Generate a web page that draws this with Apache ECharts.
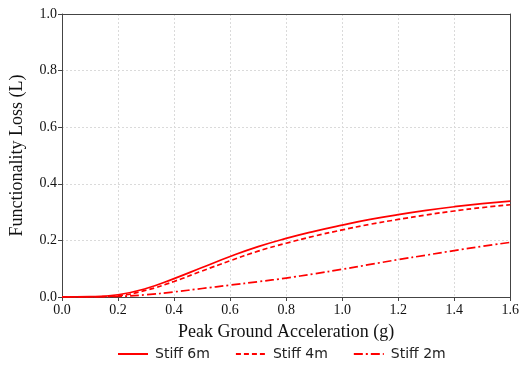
<!DOCTYPE html>
<html>
<head>
<meta charset="utf-8">
<script src="https://cdn.jsdelivr.net/npm/echarts@6/dist/echarts.min.js"></script>
<style>
  html, body { margin: 0; padding: 0; background: #fff; }
  #chart { width: 522px; height: 371px; }
</style>
</head>
<body>
<div id="chart"></div>
<script>
const pga = [0, 0.1, 0.2, 0.3, 0.4, 0.5, 0.6, 0.7, 0.8, 0.9, 1.0, 1.1, 1.2, 1.3, 1.4, 1.5, 1.6];
const stiff6m = [0, 0.001, 0.008, 0.03, 0.065, 0.104, 0.143, 0.178, 0.207, 0.232, 0.254, 0.274, 0.291, 0.306, 0.319, 0.33, 0.339];
const stiff4m = [0, 0.0005, 0.005, 0.024, 0.055, 0.092, 0.128, 0.162, 0.19, 0.215, 0.237, 0.257, 0.274, 0.29, 0.304, 0.316, 0.326];
const stiff2m = [0, 0, 0.002, 0.008, 0.018, 0.03, 0.042, 0.054, 0.067, 0.082, 0.098, 0.115, 0.132, 0.148, 0.164, 0.179, 0.193];
const xTicks = [0, 1.6, 0.2];
const yTicks = [0, 1.0, 0.2];

const serif = "'Liberation Serif', 'DejaVu Serif', serif";
const pairs = ys => pga.map((x, i) => [x, ys[i]]);

const chart = echarts.init(document.getElementById("chart"));

const lineSeries = (name, ys, type) => ({
  name: name,
  type: "line",
  data: pairs(ys),
  smooth: true,
  symbol: "none",
  lineStyle: { color: "#ff0000", width: 1.7, type: type },
  itemStyle: { color: "#ff0000" }
});

// plain frame axes for the top and right edges
const frame = (extra) => Object.assign({
  type: "value",
  axisLine: { show: true, onZero: false, lineStyle: { color: "#444" } },
  axisTick: { show: false },
  axisLabel: { show: false },
  splitLine: { show: false }
}, extra);

const tickLabel = {
  fontFamily: serif,
  fontSize: 14,
  color: "#111",
  formatter: v => v.toFixed(1)
};

chart.setOption({
  animation: false,
  backgroundColor: "#fff",
  grid: { left: 59, right: 11, top: 14, bottom: 74 },
  xAxis: [{
    type: "value",
    min: xTicks[0],
    max: xTicks[1],
    interval: xTicks[2],
    name: "Peak Ground Acceleration (g)",
    nameLocation: "middle",
    nameGap: 26,
    nameTextStyle: { fontFamily: serif, fontSize: 18, color: "#111" },
    axisLine: { lineStyle: { color: "#444" } },
    axisTick: { length: 4, lineStyle: { color: "#444" } },
    axisLabel: Object.assign({ margin: 6 }, tickLabel),
    splitLine: { lineStyle: { color: "#dadada", type: [2, 2] } }
  }, frame({ position: "top", min: xTicks[0], max: xTicks[1] })],
  yAxis: [{
    type: "value",
    min: yTicks[0],
    max: yTicks[1],
    interval: yTicks[2],
    name: "Functionality Loss (L)",
    nameLocation: "middle",
    nameGap: 36,
    nameTextStyle: { fontFamily: serif, fontSize: 18, color: "#111" },
    axisLine: { show: true, lineStyle: { color: "#444" } },
    axisTick: { show: true, length: 4, lineStyle: { color: "#444" } },
    axisLabel: Object.assign({ margin: 5 }, tickLabel),
    splitLine: { lineStyle: { color: "#dadada", type: [2, 2] } }
  }, frame({ position: "right", min: yTicks[0], max: yTicks[1] })],
  legend: {
    bottom: 5,
    left: 112,
    itemWidth: 30,
    itemHeight: 10,
    itemGap: 25,
    itemStyle: { opacity: 0 },
    textStyle: {
      fontFamily: "'DejaVu Sans', sans-serif",
      fontSize: 14,
      color: "#222",
      padding: [0, 0, 0, 2]
    },
    data: ["Stiff 6m", "Stiff 4m", "Stiff 2m"]
  },
  series: [
    lineSeries("Stiff 6m", stiff6m, "solid"),
    lineSeries("Stiff 4m", stiff4m, [5, 3]),
    lineSeries("Stiff 2m", stiff2m, [9, 3, 2, 3])
  ]
});
</script>
</body>
</html>
